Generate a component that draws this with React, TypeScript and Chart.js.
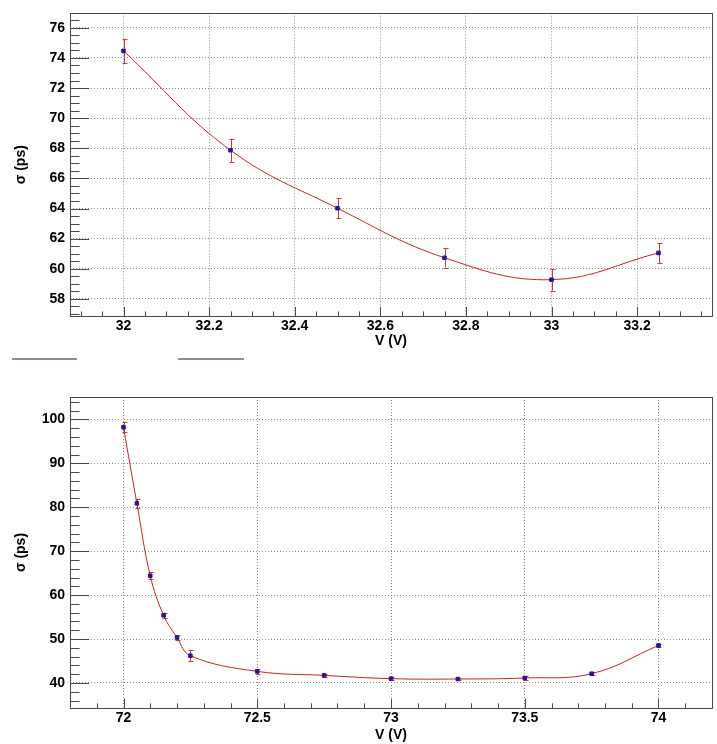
import React, { useEffect, useRef } from "react";
import { Chart, registerables } from "chart.js";

Chart.register(...registerables);

// ---------- data ----------
const topVoltage = [32, 32.25, 32.5, 32.75, 33, 33.25];
const topSigma = [74.47, 67.87, 64.02, 60.73, 59.27, 61.05];
const topSigmaErr = [0.8, 0.77, 0.65, 0.65, 0.72, 0.67];
const topXTicks = [32, 32.2, 32.4, 32.6, 32.8, 33, 33.2];
const topYTicks = [58, 60, 62, 64, 66, 68, 70, 72, 74, 76];

const bottomVoltage = [72, 72.05, 72.1, 72.15, 72.2, 72.25, 72.5, 72.75, 73, 73.25, 73.5, 73.75, 74];
const bottomSigma = [98.2, 80.9, 64.4, 55.4, 50.35, 46.2, 42.64, 41.73, 40.98, 40.9, 41.13, 42.11, 48.54];
const bottomSigmaErr = [1.1, 1.0, 0.8, 0.6, 0.6, 1.25, 0.5, 0.4, 0.35, 0.3, 0.4, 0.35, 0.4];
const bottomXTicks = [72, 72.5, 73, 73.5, 74];
const bottomYTicks = [40, 50, 60, 70, 80, 90, 100];

const xTitle = "V (V)";
const yTitle = "σ (ps)";

const FONT = "'Liberation Sans', Arial, Helvetica, sans-serif";
const CURVE_COLOR = "#cc1f24";
const MARKER_COLOR = "#2a12a8";
const ERR_COLOR = "#c83a3a";
const FRAME_COLOR = "#4a4a4a";
const GRID_COLOR = "#8c8c8c";

type PanelSpec = {
  xs: number[];
  ys: number[];
  errs: number[];
  xTicks: number[];
  yTicks: number[];
  xMin: number;
  xMax: number;
  yMin: number;
  yMax: number;
  xMinor: number;
  yMinor: number;
  padTop: number;
  xAxisHeight: number;
  xTitlePad: number;
};

function makeRootPlugin(spec: PanelSpec) {
  return {
    id: "rootStyle",
    beforeDatasetsDraw(chart: any) {
      const { ctx } = chart;
      const sx = chart.scales.x;
      const sy = chart.scales.y;
      ctx.save();
      ctx.strokeStyle = ERR_COLOR;
      ctx.lineWidth = 1;
      spec.xs.forEach((x, i) => {
        const px = Math.round(sx.getPixelForValue(x)) + 0.5;
        const y1 = sy.getPixelForValue(spec.ys[i] - spec.errs[i]);
        const y2 = sy.getPixelForValue(spec.ys[i] + spec.errs[i]);
        ctx.beginPath();
        ctx.moveTo(px, y1);
        ctx.lineTo(px, y2);
        ctx.moveTo(px - 2, Math.round(y1) + 0.5);
        ctx.lineTo(px + 3, Math.round(y1) + 0.5);
        ctx.moveTo(px - 2, Math.round(y2) + 0.5);
        ctx.lineTo(px + 3, Math.round(y2) + 0.5);
        ctx.stroke();
      });
      ctx.restore();
    },
    afterDraw(chart: any) {
      const { ctx, chartArea } = chart;
      const sx = chart.scales.x;
      const sy = chart.scales.y;
      const l = chartArea.left, r = chartArea.right, t = chartArea.top, b = chartArea.bottom;
      ctx.save();
      ctx.strokeStyle = FRAME_COLOR;
      ctx.lineWidth = 1;
      ctx.strokeRect(Math.round(l) + 0.5, Math.round(t) + 0.5, Math.round(r - l), Math.round(b - t));
      const w = r - l;
      const h = b - t;
      const yMajorLen = 0.03 * w;
      const xMajorLen = 0.03 * h;
      ctx.beginPath();
      const y0 = Math.ceil(spec.yMin / spec.yMinor - 1e-9);
      const y1 = Math.floor(spec.yMax / spec.yMinor + 1e-9);
      const yRatio = Math.round((spec.yTicks[1] - spec.yTicks[0]) / spec.yMinor);
      for (let k = y0; k <= y1; k++) {
        const v = k * spec.yMinor;
        const major = ((k % yRatio) + yRatio) % yRatio === 0;
        const py = Math.round(sy.getPixelForValue(v)) + 0.5;
        ctx.moveTo(l, py);
        ctx.lineTo(l + (major ? yMajorLen : yMajorLen / 2), py);
      }
      const x0 = Math.ceil(spec.xMin / spec.xMinor - 1e-9);
      const x1 = Math.floor(spec.xMax / spec.xMinor + 1e-9);
      const xRatio = Math.round((spec.xTicks[1] - spec.xTicks[0]) / spec.xMinor);
      for (let k = x0; k <= x1; k++) {
        const v = k * spec.xMinor;
        const major = ((k % xRatio) + xRatio) % xRatio === 0;
        const px = Math.round(sx.getPixelForValue(v)) + 0.5;
        ctx.moveTo(px, b);
        ctx.lineTo(px, b - (major ? xMajorLen : xMajorLen / 2));
      }
      ctx.stroke();
      ctx.restore();
    },
  };
}

function makeConfig(spec: PanelSpec): any {
  const points = spec.xs.map((x, i) => ({ x, y: spec.ys[i] }));
  const tickFont = { family: FONT, size: 14, weight: "bold" as const };
  return {
    type: "line",
    data: {
      datasets: [
        {
          label: "data",
          data: points,
          showLine: false,
          pointStyle: "rect",
          pointRadius: 2.5,
          pointBorderWidth: 1,
          pointBackgroundColor: MARKER_COLOR,
          pointBorderColor: MARKER_COLOR,
          borderColor: MARKER_COLOR,
        },
        {
          label: "fit",
          data: points,
          borderColor: CURVE_COLOR,
          borderWidth: 1,
          pointRadius: 0,
          tension: 0.4,
          fill: false,
        },
      ],
    },
    options: {
      animation: false,
      responsive: false,
      maintainAspectRatio: false,
      layout: { padding: { top: spec.padTop, right: 5, left: 0, bottom: 0 } },
      plugins: { legend: { display: false }, tooltip: { enabled: false } },
      scales: {
        x: {
          type: "linear",
          min: spec.xMin,
          max: spec.xMax,
          afterBuildTicks: (scale: any) => {
            scale.ticks = spec.xTicks.map((v) => ({ value: v }));
          },
          afterFit: (scale: any) => {
            scale.height = spec.xAxisHeight;
          },
          ticks: {
            autoSkip: false,
            maxRotation: 0,
            padding: 2,
            color: "#000",
            font: tickFont,
            callback: (v: any) => String(v),
          },
          grid: { drawTicks: false, color: GRID_COLOR, lineWidth: 1 },
          border: { display: false, dash: [1, 2] },
          title: {
            display: true,
            text: xTitle,
            color: "#000",
            font: tickFont,
            padding: { top: spec.xTitlePad, bottom: 0 },
          },
        },
        y: {
          type: "linear",
          min: spec.yMin,
          max: spec.yMax,
          afterBuildTicks: (scale: any) => {
            scale.ticks = spec.yTicks.map((v) => ({ value: v }));
          },
          afterFit: (scale: any) => {
            scale.width = 70;
          },
          ticks: {
            autoSkip: false,
            padding: 5,
            color: "#000",
            font: tickFont,
            callback: (v: any) => String(v),
          },
          grid: { drawTicks: false, color: GRID_COLOR, lineWidth: 1 },
          border: { display: false, dash: [1, 2] },
          title: {
            display: true,
            text: yTitle,
            color: "#000",
            font: tickFont,
            padding: { top: 13, bottom: 0 },
          },
        },
      },
    },
    plugins: [makeRootPlugin(spec)],
  };
}

const topSpec: PanelSpec = {
  xs: topVoltage,
  ys: topSigma,
  errs: topSigmaErr,
  xTicks: topXTicks,
  yTicks: topYTicks,
  xMin: 31.875,
  xMax: 33.375,
  yMin: 56.86,
  yMax: 76.96,
  xMinor: 0.05,
  yMinor: 0.5,
  padTop: 5,
  xAxisHeight: 34,
  xTitlePad: 3,
};

const bottomSpec: PanelSpec = {
  xs: bottomVoltage,
  ys: bottomSigma,
  errs: bottomSigmaErr,
  xTicks: bottomXTicks,
  yTicks: bottomYTicks,
  xMin: 71.8,
  xMax: 74.2,
  yMin: 34.3,
  yMax: 105.1,
  xMinor: 0.1,
  yMinor: 2,
  padTop: 47,
  xAxisHeight: 36,
  xTitlePad: 5,
};

function Panel({ spec, top, height }: { spec: PanelSpec; top: number; height: number }) {
  const ref = useRef<HTMLCanvasElement | null>(null);
  useEffect(() => {
    if (!ref.current) return;
    const chart = new Chart(ref.current, makeConfig(spec));
    return () => chart.destroy();
  }, [spec]);
  return (
    <canvas
      ref={ref}
      width={717}
      height={height}
      style={{ position: "absolute", left: 0, top, width: 717, height }}
    />
  );
}

export default function App() {
  const legendLine = (left: number, width: number) => (
    <div
      style={{
        position: "absolute",
        left,
        top: 358,
        width,
        height: 2,
        background: "#9585a8",
      }}
    />
  );
  return (
    <div
      style={{
        position: "fixed",
        left: 0,
        top: 0,
        width: 717,
        height: 744,
        background: "#fff",
        overflow: "hidden",
      }}
    >
      <Panel spec={topSpec} top={0} height={350} />
      <Panel spec={bottomSpec} top={350} height={394} />
      {legendLine(12, 65)}
      {legendLine(178, 66)}
    </div>
  );
}
